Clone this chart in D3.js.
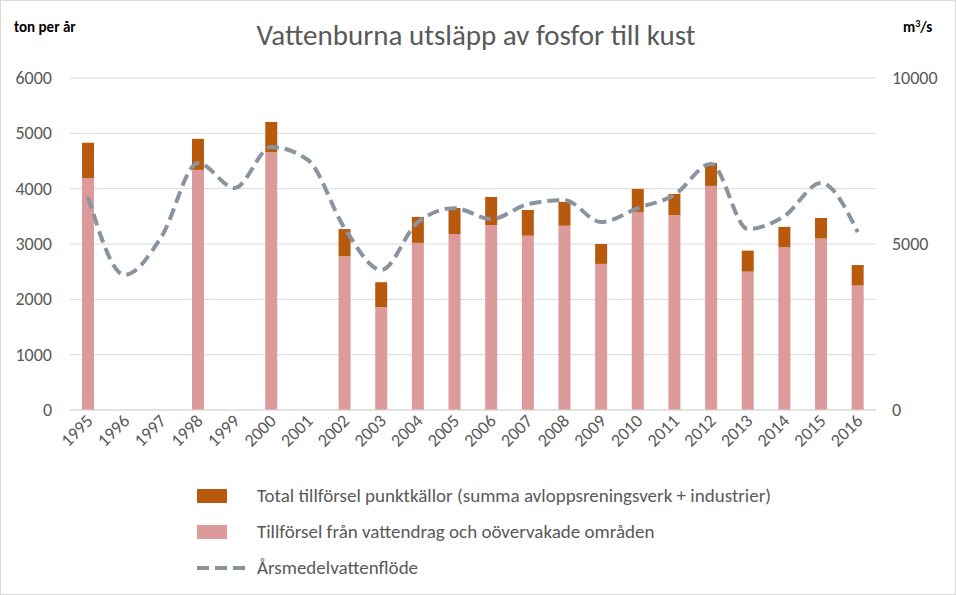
<!DOCTYPE html>
<html><head><meta charset="utf-8">
<script src="https://cdn.jsdelivr.net/npm/d3@7"></script>
<style>body{margin:0;background:#fff;font-family:Calibri,Carlito,"Open Sans",sans-serif;}</style>
</head><body><div id="chart"></div>
<script>
var years = ["1995","1996","1997","1998","1999","2000","2001","2002","2003","2004","2005","2006","2007","2008","2009","2010","2011","2012","2013","2014","2015","2016"];
var diffuse = [4190,null,null,4340,null,4660,null,2780,1860,3020,3180,3340,3150,3330,2640,3580,3520,4050,2500,2940,3100,2250];
var total = [4830,null,null,4900,null,5205,null,3270,2310,3490,3650,3850,3615,3760,3000,3995,3905,4465,2880,3310,3470,2620];
var flow = [6420,4070,5210,7440,6690,7920,7530,5480,4220,5660,6080,5750,6200,6320,5660,6080,6480,7410,5450,5840,6840,5360];
var leftTicks = [0,1000,2000,3000,4000,5000,6000];
var rightTicks = [0,5000,10000];

var svg = d3.select("#chart").append("svg").attr("width",956).attr("height",595);
svg.append("rect").attr("x",0.5).attr("y",0.5).attr("width",955).attr("height",594).attr("fill","#fff").attr("stroke","#d9d9d9");

var x = d3.scaleBand().domain(years).range([69.7,876]).padding(0);
var cx = d => x(d) + x.bandwidth()/2;
var bw = 12;
var y = d3.scaleLinear().domain([0,6000]).range([410,78]);
var y2 = d3.scaleLinear().domain([0,10000]).range([410,78]);

svg.append("g").selectAll("line").data(leftTicks).join("line")
  .attr("x1",70).attr("x2",876).attr("y1",d=>y(d)).attr("y2",d=>y(d))
  .attr("stroke","#d9d9d9");

svg.append("g").selectAll("text").data(leftTicks).join("text")
  .attr("x",52).attr("y",d=>y(d)+6).attr("text-anchor","end")
  .attr("font-size",18).attr("fill","#595959").text(d=>d);
svg.append("g").selectAll("text").data(rightTicks).join("text")
  .attr("x",892).attr("y",d=>y2(d)+6)
  .attr("font-size",18).attr("fill","#595959").text(d=>d);

var idx = d3.range(years.length).filter(i=>total[i]!=null);
svg.append("g").selectAll("rect").data(idx).join("rect")
  .attr("x",i=>cx(years[i])-bw/2).attr("width",bw)
  .attr("y",i=>y(diffuse[i])).attr("height",i=>y(0)-y(diffuse[i]))
  .attr("fill","#dc9a9a");
svg.append("g").selectAll("rect").data(idx).join("rect")
  .attr("x",i=>cx(years[i])-bw/2).attr("width",bw)
  .attr("y",i=>y(total[i])).attr("height",i=>y(diffuse[i])-y(total[i]))
  .attr("fill","#b85a0e");

var line = d3.line().x((d,i)=>cx(years[i])).y(d=>y2(d)).curve(d3.curveMonotoneX);
svg.append("path").datum(flow).attr("d",line).attr("fill","none")
  .attr("stroke","#8a949f").attr("stroke-width",4).attr("stroke-dasharray","12,6");

svg.append("line").attr("x1",70).attr("x2",876).attr("y1",410).attr("y2",410).attr("stroke","#d9d9d9");

svg.append("g").selectAll("text").data(years).join("text")
  .attr("transform",d=>`translate(${cx(d)+6},${422}) rotate(-45)`)
  .attr("text-anchor","end").attr("font-size",18).attr("fill","#595959").text(d=>d);

svg.append("text").attr("x",476).attr("y",45).attr("text-anchor","middle")
  .attr("font-size",29).attr("fill","#595959").text("Vattenburna utsläpp av fosfor till kust");
svg.append("text").attr("x",14).attr("y",32).attr("font-size",15).attr("font-weight","bold").text("ton per år");
var m = svg.append("text").attr("x",903).attr("y",32).attr("font-size",15).attr("font-weight","bold");
m.append("tspan").text("m");
m.append("tspan").attr("dy",-5).attr("font-size",10).text("3");
m.append("tspan").attr("dy",5).text("/s");

var legend = [
  {t:"Total tillförsel punktkällor (summa avloppsreningsverk + industrier)", c:"#b85a0e", type:"rect"},
  {t:"Tillförsel från vattendrag och oövervakade områden", c:"#dc9a9a", type:"rect"},
  {t:"Årsmedelvattenflöde", c:"#8a949f", type:"line"}
];
var lg = svg.append("g").selectAll("g").data(legend).join("g")
  .attr("transform",(d,i)=>`translate(197,${496+i*36})`);
lg.filter(d=>d.type=="rect").append("rect").attr("x",0).attr("y",-7).attr("width",30).attr("height",14).attr("fill",d=>d.c);
lg.filter(d=>d.type=="line").append("line").attr("x1",0).attr("x2",50).attr("y1",0).attr("y2",0)
  .attr("stroke",d=>d.c).attr("stroke-width",4).attr("stroke-dasharray","12,6");
lg.append("text").attr("x",60).attr("y",6).attr("font-size",19).attr("fill","#595959").text(d=>d.t);
</script></body></html>
